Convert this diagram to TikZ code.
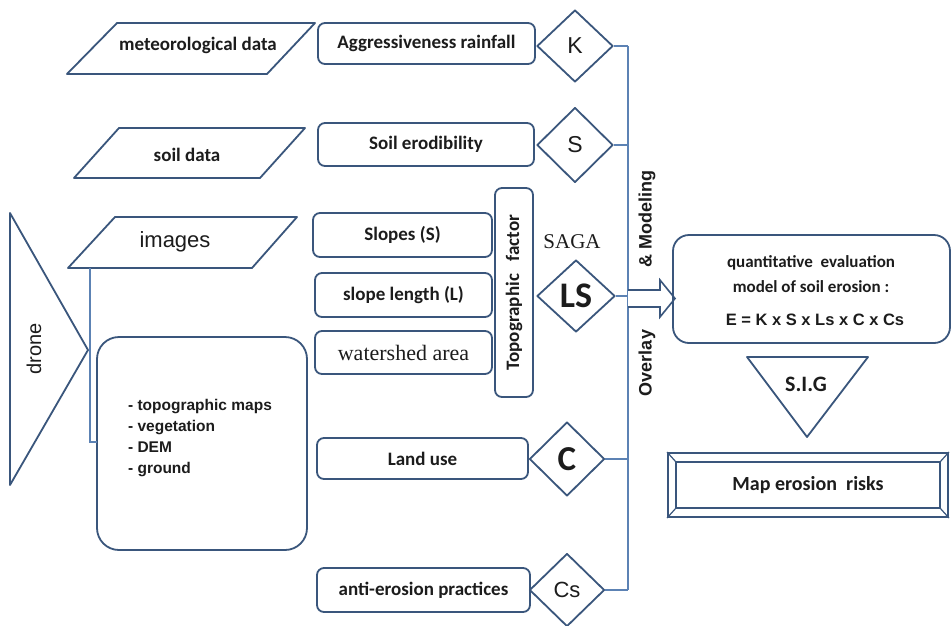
\documentclass[tikz,border=0pt]{standalone}
\usepackage{fontspec}
\setmainfont{Carlito}
\newfontfamily\arialf{Liberation Sans}
\newfontfamily\timesf{Liberation Serif}
\usetikzlibrary{shapes.geometric}
\definecolor{edge}{RGB}{58,86,124}
\definecolor{conncol}{RGB}{92,130,180}
\definecolor{ink}{RGB}{28,28,28}
\newcommand\fsz[2]{\fontsize{#1}{#2}\selectfont}
\begin{document}
\begin{tikzpicture}[x=1pt,y=-1pt,
  shp/.style={draw=edge,line width=1.8pt,line join=round},
  box/.style={shp,rounded corners=7pt,inner sep=0pt,text=ink,font=\bfseries\fsz{19}{22}},
  dia/.style={diamond,shp,inner sep=0pt,text=ink},
  lbl/.style={text=ink,inner sep=0pt},
  cbl/.style={lbl,font=\bfseries\fsz{19}{22}},
  conn/.style={draw=conncol,line width=1.6pt}
]
\useasboundingbox[fill=white] (0,0) rectangle (951,625);

% ---------- left inputs ----------
\draw[shp] (117,23) -- (315,23) -- (267,74) -- (67,74) -- cycle;
\node[cbl] (met) at (198,45) {meteorological data};
\draw[shp] (119,128) -- (305,128) -- (260,178) -- (74,178) -- cycle;
\node[cbl] (soil) at (187,155) {soil data};
\draw[shp] (115,217) -- (297,217) -- (252,268) -- (68,268) -- cycle;
\node[lbl,font=\arialf\fsz{22}{26}] (img) at (175,242) {images};

% drone
\draw[shp] (10,213) -- (88,350) -- (10,485) -- cycle;
\node[lbl,rotate=90,font=\arialf\fsz{20}{24}] (drone) at (34,349) {drone};

% observations box
\node[shp,rounded corners=22pt,minimum width=210pt,minimum height=213pt,inner sep=0pt] (obs) at (202,443.5) {};
\node[lbl,align=left,font=\arialf\bfseries\fsz{15.5}{20.7}] (obstxt) at (200,438)
  {- topographic maps\\- vegetation\\- DEM\\- ground};
\coordinate (imgb) at (90,268);
\coordinate (imgj) at (97,442);
\draw[conn] (imgb) |- (imgj);

% ---------- factor boxes ----------
\node[box,minimum width=217pt,minimum height=41pt] (aggr) at (426.5,43.5) {Aggressiveness rainfall};
\node[box,minimum width=216pt,minimum height=43pt] (erod) at (426,144.5) {Soil erodibility};
\node[box,minimum width=179pt,minimum height=44pt] (slope) at (402.5,235) {Slopes (S)};
\node[box,minimum width=177pt,minimum height=44pt] (slen) at (403.5,295) {slope length (L)};
\node[box,minimum width=177pt,minimum height=43pt,font=\timesf\fsz{22}{26}] (water) at (403.5,352.5) {watershed area};
\node[box,minimum width=38pt,minimum height=209pt] (topo) at (514,292.5) {};
\node[cbl,rotate=90] (topotxt) at (514,292.5) {Topographic\ \ \ factor};
\node[box,minimum width=211pt,minimum height=41pt] (land) at (422.5,458.5) {Land use};
\node[box,minimum width=213pt,minimum height=44pt] (anti) at (423.5,590) {anti-erosion practices};

\node[lbl,font=\timesf\fsz{21}{25}] (saga) at (572,242) {SAGA};

% ---------- diamonds ----------
\node[dia,minimum width=76pt,minimum height=72pt,font=\arialf\fsz{23}{26}] (K) at (575,46) {K};
\node[dia,minimum width=76pt,minimum height=75pt,font=\arialf\fsz{23}{26}] (S) at (575,145) {S};
\node[dia,minimum width=78pt,minimum height=72pt,font=\bfseries\fsz{36}{40}] (LS) at (576,296) {LS};
\node[dia,minimum width=75pt,minimum height=74pt,font=\bfseries\fsz{35}{40}] (C) at (567,459) {C};
\node[dia,minimum width=75pt,minimum height=73pt,font=\arialf\fsz{22}{26}] (Cs) at (567,590) {Cs};

% ---------- collector line ----------
\coordinate (busK) at (628,46);
\coordinate (busS) at (628,145);
\coordinate (busLS) at (628,296);
\coordinate (busC) at (628,459);
\coordinate (busCs) at (628,590);
\draw[conn] (K.east) -- (busK);
\draw[conn] (S.east) -- (busS);
\draw[conn] (LS.east) -- (busLS);
\draw[conn] (C.east) -- (busC);
\draw[conn] (Cs.east) -- (busCs);
\draw[conn] (busK) -- (busCs);

\node[lbl,rotate=90,font=\arialf\bfseries\fsz{18}{22}] (model) at (647,219) {\&\ Modeling};
\node[lbl,rotate=90,font=\arialf\bfseries\fsz{18}{22}] (overlay) at (647,363) {Overlay};

% ---------- hollow arrow ----------
\draw[draw=edge,line width=1.6pt,fill=white,line join=miter]
  (628,290) -- (660,290) -- (660,280) -- (675,298.5) -- (660,317) -- (660,307) -- (628,307);

% ---------- model box ----------
\node[shp,rounded corners=16pt,minimum width=277pt,minimum height=108pt,inner sep=0pt] (quant) at (811.5,289) {};
\node[cbl,font=\bfseries\fsz{17}{20}] (q1) at (811,263) {quantitative\ \ evaluation};
\node[cbl,font=\bfseries\fsz{17}{20}] (q2) at (811,287) {model of soil erosion :};
\node[lbl,font=\arialf\bfseries\fsz{16.5}{20}] (q3) at (815,320) {E = K x S x Ls x C x Cs};

% ---------- SIG triangle ----------
\draw[shp] (747,357) -- (868,357) -- (807,437) -- cycle;
\node[cbl,font=\bfseries\fsz{22}{26}] (sig) at (806,384) {S.I.G};

% ---------- map box ----------
\node[draw=edge,line width=1.8pt,minimum width=280pt,minimum height=64pt,inner sep=0pt] (map) at (808,485) {};
\draw[shp] (676,462) rectangle (940,508);
\draw[draw=edge,line width=1.2pt] (map.north west) -- (676,462);
\draw[draw=edge,line width=1.2pt] (map.north east) -- (940,462);
\draw[draw=edge,line width=1.2pt] (map.south west) -- (676,508);
\draw[draw=edge,line width=1.2pt] (map.south east) -- (940,508);
\node[cbl,font=\bfseries\fsz{20}{24}] (maptxt) at (808,485) {Map erosion\ \ risks};
\end{tikzpicture}
\end{document}
